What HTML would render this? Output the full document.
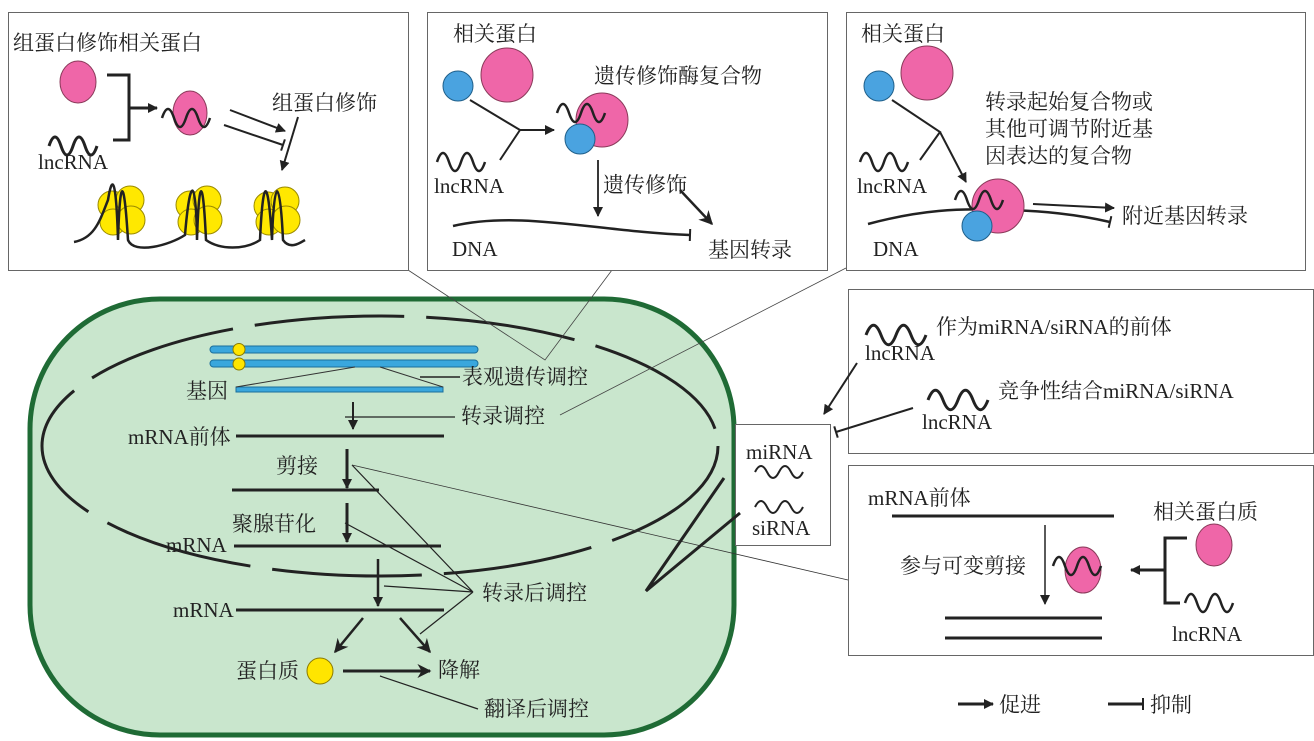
<!DOCTYPE html>
<html><head><meta charset="utf-8"><style>
body{margin:0;background:#fff}
svg{display:block}
text{font-family:"Liberation Serif","Noto Serif CJK SC",serif;font-size:21px;fill:#222}
</style></head><body>
<svg width="1314" height="741" viewBox="0 0 1314 741" xmlns="http://www.w3.org/2000/svg">
<defs>
<marker id="a" viewBox="0 0 10 10" refX="9" refY="5" markerWidth="10" markerHeight="10" orient="auto" markerUnits="userSpaceOnUse"><path d="M0,0 L10,5 L0,10 z" fill="#222"/></marker>
<marker id="A" viewBox="0 0 10 10" refX="9" refY="5" markerWidth="14" markerHeight="14" orient="auto" markerUnits="userSpaceOnUse"><path d="M0,0 L10,5 L0,10 L3,5 z" fill="#222"/></marker>
<marker id="t" viewBox="0 0 4 12" refX="2" refY="6" markerWidth="4" markerHeight="12" orient="auto" markerUnits="userSpaceOnUse"><path d="M2,0 L2,12" stroke="#222" stroke-width="2"/></marker>
</defs>

<!-- cell -->
<rect x="30" y="299" width="704" height="436" rx="130" fill="#c9e6cd" stroke="#1f6b35" stroke-width="5"/>
<ellipse cx="380" cy="446" rx="338" ry="130" fill="none" stroke="#222" stroke-width="3" stroke-dasharray="150,22"/>

<!-- chromosomes -->
<rect x="210" y="346" width="268" height="7" rx="3.5" fill="#3aa7dd" stroke="#1a6f9c"/>
<rect x="210" y="360" width="268" height="7" rx="3.5" fill="#3aa7dd" stroke="#1a6f9c"/>
<circle cx="239" cy="349.5" r="6" fill="#ffe500" stroke="#8a7a00"/>
<circle cx="239" cy="364" r="6" fill="#ffe500" stroke="#8a7a00"/>
<rect x="236" y="387" width="207" height="5" fill="#3aa7dd" stroke="#1a6f9c"/>
<path d="M236,387 L355,367 M380,367 L443,387" stroke="#333" fill="none"/>
<text x="186" y="398">基因</text>
<path d="M420,377 H460" stroke="#222" stroke-width="1.5"/>
<text x="462" y="384">表观遗传调控</text>
<path d="M353,402 V429" stroke="#222" stroke-width="2" marker-end="url(#a)"/>
<path d="M345,417 H455" stroke="#222" stroke-width="1.2"/>
<text x="461" y="423">转录调控</text>
<text x="128" y="444">mRNA前体</text>
<path d="M236,436 H444" stroke="#222" stroke-width="3"/>
<text x="276" y="473">剪接</text>
<path d="M347,449 V488" stroke="#222" stroke-width="3" marker-end="url(#a)"/>
<path d="M232,490 H379" stroke="#222" stroke-width="3"/>
<text x="232" y="531">聚腺苷化</text>
<path d="M347,503 V542" stroke="#222" stroke-width="3" marker-end="url(#a)"/>
<text x="166" y="552">mRNA</text>
<path d="M234,546 H441" stroke="#222" stroke-width="3"/>
<path d="M378,559 V606" stroke="#222" stroke-width="2.5" marker-end="url(#a)"/>
<text x="173" y="617">mRNA</text>
<path d="M236,610 H444" stroke="#222" stroke-width="3"/>
<path d="M363,618 L335,652" stroke="#222" stroke-width="2.5" marker-end="url(#A)"/>
<path d="M400,618 L430,652" stroke="#222" stroke-width="2.5" marker-end="url(#A)"/>
<text x="236" y="678">蛋白质</text>
<circle cx="320" cy="671" r="13" fill="#ffe500" stroke="#8a7a00"/>
<path d="M343,671 H430" stroke="#222" stroke-width="3" marker-end="url(#A)"/>
<text x="438" y="677">降解</text>
<path d="M380,676 L478,709" stroke="#222" stroke-width="1.2"/>
<text x="484" y="716">翻译后调控</text>
<path d="M352,465 L473,592 M345,523 L473,592 M384,586 L473,592 M420,634 L473,592" stroke="#222" stroke-width="1.2" fill="none"/>
<path d="M352,465 L848,580" stroke="#333" stroke-width="0.8"/>
<text x="482" y="600">转录后调控</text>

<path d="M408,270 L545,360 L612,270" stroke="#444" stroke-width="0.8" fill="none"/>
<path d="M560,415 L846,268" stroke="#444" stroke-width="0.8"/>

<!-- Box 1 -->
<rect x="8.5" y="12.5" width="400" height="258" fill="#fff" stroke="#666"/>
<text x="13" y="50">组蛋白修饰相关蛋白</text>
<ellipse cx="78" cy="82" rx="18" ry="21" fill="#ef66a8" stroke="#8a3a5a"/>
<path d="M107,75 H129 V140 H113 M129,108 H157" stroke="#222" stroke-width="3" fill="none" marker-end="url(#a)"/>
<path d="M49,146 c4,-12 8,-12 12,0 s8,12 12,0 s8,-12 12,0 s8,12 12,0" stroke="#222" stroke-width="3" fill="none"/>
<text x="38" y="169">lncRNA</text>
<ellipse cx="190" cy="113" rx="17" ry="22" fill="#ef66a8" stroke="#8a3a5a"/>
<path d="M162,118 c4,-12 8,-12 12,0 s8,12 12,0 s8,-12 12,0 s8,12 12,0" stroke="#222" stroke-width="2.5" fill="none"/>
<path d="M230,110 L285,131" stroke="#222" stroke-width="2" marker-end="url(#a)"/>
<path d="M224,125 L283,145" stroke="#222" stroke-width="2" marker-end="url(#t)"/>
<text x="272" y="110">组蛋白修饰</text>
<path d="M298,117 L282,170" stroke="#222" stroke-width="2" marker-end="url(#a)"/>
<g fill="#ffe800" stroke="#9a8a00">
<circle cx="112" cy="205" r="14"/><circle cx="130" cy="200" r="14"/><circle cx="113" cy="222" r="13"/><circle cx="131" cy="220" r="14"/>
<circle cx="190" cy="205" r="14"/><circle cx="207" cy="200" r="14"/><circle cx="191" cy="222" r="13"/><circle cx="208" cy="220" r="14"/>
<circle cx="268" cy="206" r="14"/><circle cx="285" cy="201" r="14"/><circle cx="269" cy="222" r="13"/><circle cx="286" cy="220" r="14"/>
</g>
<path d="M74,242 C95,238 100,220 108,200 C112,175 116,175 118,240 C120,175 124,175 128,240 C134,255 170,245 185,235 C190,175 196,175 197,240 C199,175 203,175 206,240 C220,250 245,250 260,240 C263,175 268,175 272,240 C274,175 280,175 283,240 C290,250 300,243 305,240" stroke="#222" stroke-width="2.5" fill="none"/>

<!-- Box 2 -->
<rect x="427.5" y="12.5" width="400" height="258" fill="#fff" stroke="#666"/>
<text x="453" y="41">相关蛋白</text>
<ellipse cx="507" cy="75" rx="26" ry="27" fill="#ef66a8" stroke="#8a3a5a"/>
<circle cx="458" cy="86" r="15" fill="#4aa3e0" stroke="#1f5f8a"/>
<path d="M470,100 L520,130 L500,160" stroke="#222" stroke-width="2" fill="none"/>
<path d="M520,130 H554" stroke="#222" stroke-width="2" marker-end="url(#a)"/>
<path d="M437,162 c4,-12 8,-12 12,0 s8,12 12,0 s8,-12 12,0 s8,12 12,0" stroke="#222" stroke-width="2.5" fill="none"/>
<text x="434" y="193">lncRNA</text>
<text x="594" y="83">遗传修饰酶复合物</text>
<ellipse cx="602" cy="120" rx="26" ry="27" fill="#ef66a8" stroke="#8a3a5a"/>
<circle cx="580" cy="139" r="15" fill="#4aa3e0" stroke="#1f5f8a"/>
<path d="M557,113 c4,-12 8,-12 12,0 s8,12 12,0 s8,-12 12,0 s8,12 12,0" stroke="#222" stroke-width="2.5" fill="none"/>
<path d="M598,160 V216" stroke="#222" stroke-width="1.8" marker-end="url(#a)"/>
<text x="603" y="192">遗传修饰</text>
<path d="M453,226 C520,210 600,232 690,235" stroke="#222" stroke-width="2.5" fill="none" marker-end="url(#t)"/>
<path d="M680,190 L712,224" stroke="#222" stroke-width="2.5" marker-end="url(#A)"/>
<text x="452" y="256">DNA</text>
<text x="708" y="257">基因转录</text>

<!-- Box 3 -->
<rect x="846.5" y="12.5" width="459" height="258" fill="#fff" stroke="#666"/>
<text x="861" y="41">相关蛋白</text>
<ellipse cx="927" cy="73" rx="26" ry="27" fill="#ef66a8" stroke="#8a3a5a"/>
<circle cx="879" cy="86" r="15" fill="#4aa3e0" stroke="#1f5f8a"/>
<path d="M892,100 L940,132 L920,160" stroke="#222" stroke-width="2" fill="none"/>
<path d="M940,132 L966,182" stroke="#222" stroke-width="2" marker-end="url(#a)"/>
<path d="M860,162 c4,-12 8,-12 12,0 s8,12 12,0 s8,-12 12,0 s8,12 12,0" stroke="#222" stroke-width="2.5" fill="none"/>
<text x="857" y="193">lncRNA</text>
<text x="985" y="109">转录起始复合物或</text>
<text x="985" y="136">其他可调节附近基</text>
<text x="985" y="163">因表达的复合物</text>
<path d="M868,224 C920,210 960,208 1000,210 C1040,210 1080,215 1110,222" stroke="#222" stroke-width="2.5" fill="none" marker-end="url(#t)"/>
<ellipse cx="998" cy="206" rx="26" ry="27" fill="#ef66a8" stroke="#8a3a5a"/>
<circle cx="977" cy="226" r="15" fill="#4aa3e0" stroke="#1f5f8a"/>
<path d="M955,200 c4,-12 8,-12 12,0 s8,12 12,0 s8,-12 12,0 s8,12 12,0" stroke="#222" stroke-width="2.5" fill="none"/>
<path d="M1033,204 L1114,208" stroke="#222" stroke-width="2" marker-end="url(#a)"/>
<text x="873" y="256">DNA</text>
<text x="1122" y="223">附近基因转录</text>

<!-- Box 4 -->
<rect x="848.5" y="289.5" width="465" height="164" fill="#fff" stroke="#666"/>
<path d="M866,335 c5,-13 10,-13 15,0 s10,13 15,0 s10,-13 15,0 s10,13 15,0" stroke="#222" stroke-width="3" fill="none"/>
<text x="936" y="334">作为miRNA/siRNA的前体</text>
<text x="865" y="360">lncRNA</text>
<path d="M857,363 L824,414" stroke="#222" stroke-width="2" marker-end="url(#a)"/>
<path d="M928,400 c5,-13 10,-13 15,0 s10,13 15,0 s10,-13 15,0 s10,13 15,0" stroke="#222" stroke-width="3" fill="none"/>
<text x="998" y="398">竞争性结合miRNA/siRNA</text>
<text x="922" y="429">lncRNA</text>
<path d="M913,408 L836,432" stroke="#222" stroke-width="2" marker-end="url(#t)"/>

<!-- miRNA box -->
<rect x="735.5" y="424.5" width="95" height="121" fill="#fff" stroke="#666"/>
<text x="746" y="459">miRNA</text>
<path d="M755,472 c4,-8 8,-8 12,0 s8,8 12,0 s8,-8 12,0 s8,8 12,0" stroke="#222" stroke-width="2" fill="none"/>
<path d="M755,507 c4,-8 8,-8 12,0 s8,8 12,0 s8,-8 12,0 s8,8 12,0" stroke="#222" stroke-width="2" fill="none"/>
<text x="752" y="535">siRNA</text>
<path d="M724,478 L646,591 L740,513" stroke="#222" stroke-width="3" fill="none"/>

<!-- Box 5 -->
<rect x="848.5" y="465.5" width="465" height="190" fill="#fff" stroke="#666"/>
<text x="868" y="505">mRNA前体</text>
<path d="M892,516 H1114" stroke="#222" stroke-width="3"/>
<path d="M1045,525 V604" stroke="#222" stroke-width="1.5" marker-end="url(#a)"/>
<text x="900" y="573">参与可变剪接</text>
<ellipse cx="1083" cy="570" rx="18" ry="23" fill="#ef66a8" stroke="#8a3a5a"/>
<path d="M1053,566 c4,-12 8,-12 12,0 s8,12 12,0 s8,-12 12,0 s8,12 12,0" stroke="#222" stroke-width="2.5" fill="none"/>
<text x="1153" y="519">相关蛋白质</text>
<ellipse cx="1214" cy="545" rx="18" ry="21" fill="#ef66a8" stroke="#8a3a5a"/>
<path d="M1187,538 H1165 V603 H1180 M1165,570 H1131" stroke="#222" stroke-width="3" fill="none" marker-end="url(#a)"/>
<path d="M1185,603 c4,-12 8,-12 12,0 s8,12 12,0 s8,-12 12,0 s8,12 12,0" stroke="#222" stroke-width="2.5" fill="none"/>
<text x="1172" y="641">lncRNA</text>
<path d="M945,618 H1102 M945,638 H1102" stroke="#222" stroke-width="3"/>

<!-- legend -->
<path d="M958,704 H993" stroke="#222" stroke-width="3" marker-end="url(#a)"/>
<text x="999" y="712">促进</text>
<path d="M1108,704 H1143" stroke="#222" stroke-width="3" marker-end="url(#t)"/>
<text x="1150" y="712">抑制</text>
</svg>
</body></html>
